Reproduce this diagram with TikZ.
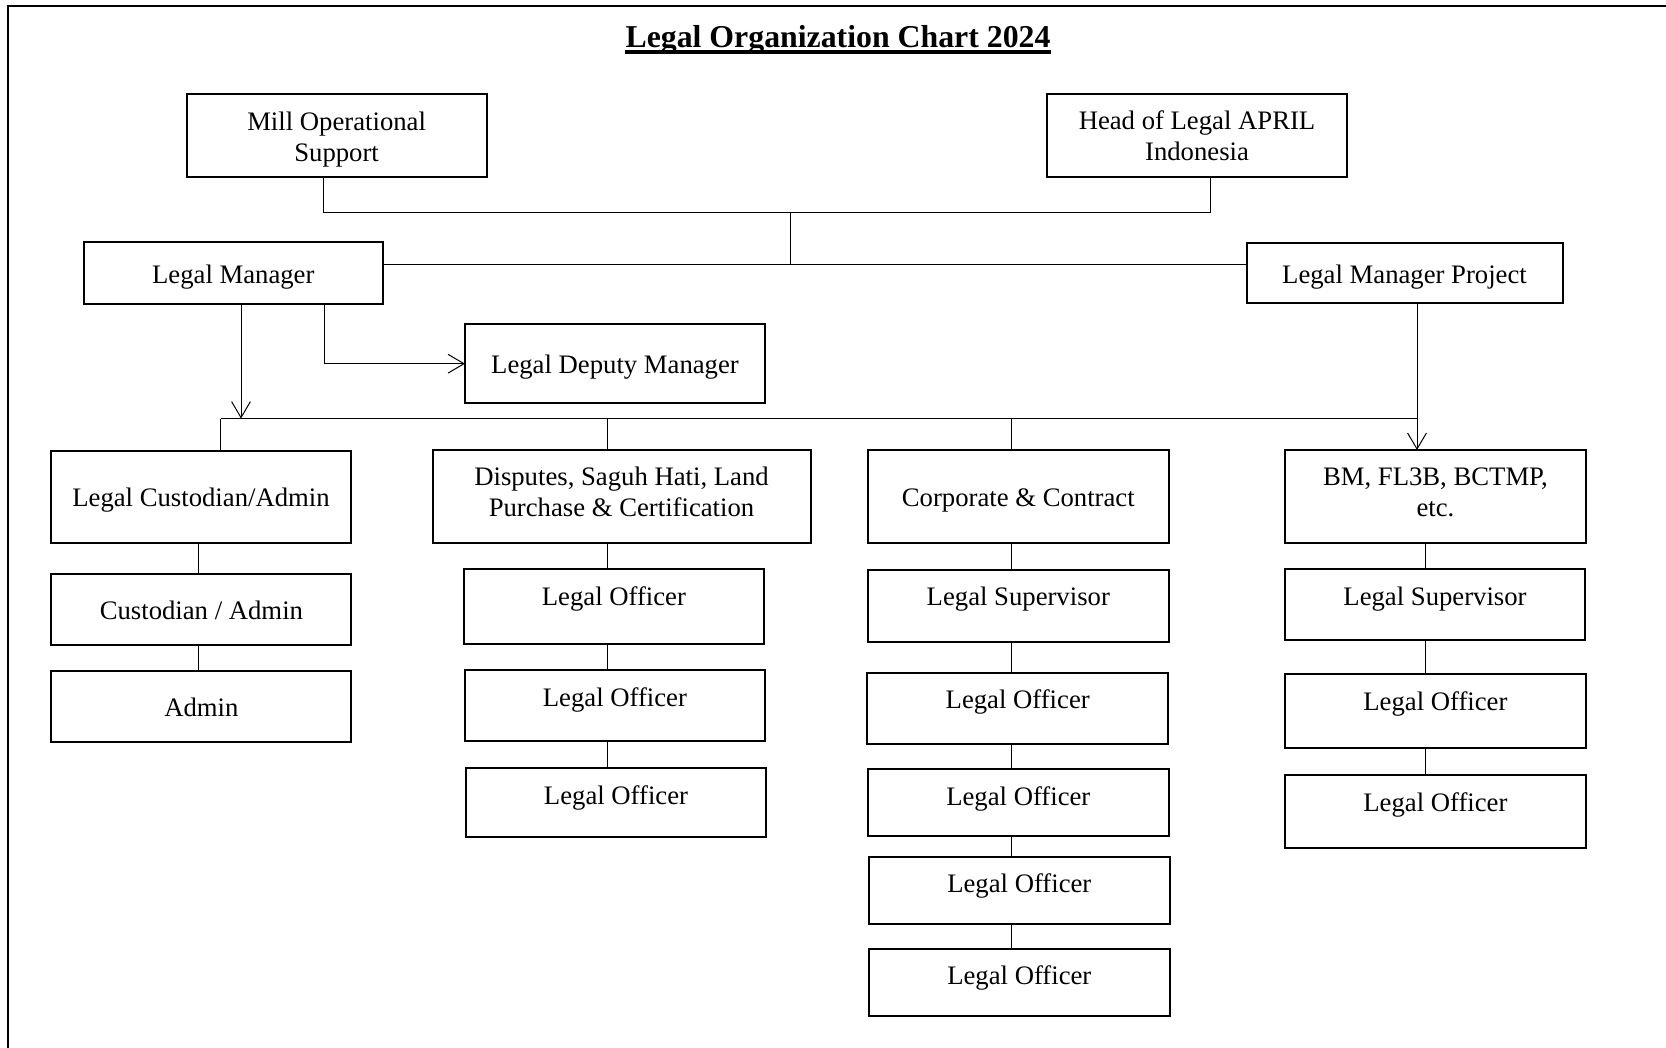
\documentclass[tikz,border=0pt]{standalone}
\usepackage{fontspec}
\setmainfont{Liberation Serif}
\usetikzlibrary{arrows.meta}
% shift a label inside its box without changing the box size
\newcommand\liftup[2]{\raisebox{#1}[\height][\depth]{#2}}
\newcommand\twolines[2]{\begin{tabular}{@{}c@{}}#1\\#2\end{tabular}}

\begin{document}
\begin{tikzpicture}[x=0.5pt,y=-0.5pt,
  font=\fontsize{13.35}{15.5}\selectfont,
  box/.style={draw, line width=1pt, inner sep=0pt, outer sep=0pt, align=center},
  conn/.style={line width=0.5pt},
  arr/.style={conn, -{Straight Barb[length=8pt,width=9.4pt,line width=0.5pt]}}
]
\useasboundingbox (0,0) rectangle (1666,1048);

% page frame
\draw[line width=0.7pt] (8,1060) -- (8,6) -- (1680,6);

% title
\node[anchor=base, inner sep=0pt, font=\bfseries\fontsize{15.9}{19}\selectfont] (title) at (838,47.5) {Legal Organization Chart 2024};
\draw[line width=1.6pt] ([yshift=-2.3pt]title.base west) -- ([yshift=-2.3pt]title.base east);

% top level
\node[box, minimum width=150pt, minimum height=41.65pt] (mill) at (336.6,135.7) {\liftup{-1.9pt}{\twolines{Mill Operational}{Support}}};
\node[box, minimum width=150pt, minimum height=41.5pt] (head) at (1197,135.5) {\liftup{-1.9pt}{\twolines{Head of Legal APRIL}{Indonesia}}};

% managers
\node[box, minimum width=149.75pt, minimum height=31pt] (lm) at (233.3,273.3) {\liftup{-1.9pt}{Legal Manager}};
\node[box, minimum width=158pt, minimum height=30.3pt] (lmp) at (1404.5,273) {\liftup{-1.9pt}{Legal Manager Project}};
\node[box, minimum width=150pt, minimum height=39.65pt] (dep) at (615,363.7) {\liftup{-1.9pt}{Legal Deputy Manager}};

% custodian column
\node[box, minimum width=150pt, minimum height=46.3pt] (lca) at (201,497.1) {\liftup{-1.6pt}{Legal Custodian/Admin}};
\node[box, minimum width=150pt, minimum height=35.3pt] (ca) at (201.4,609.3) {\liftup{-0.6pt}{Custodian / Admin}};
\node[box, minimum width=150pt, minimum height=35.35pt] (adm) at (201.4,706.3) {\liftup{-0.6pt}{Admin}};

% disputes column
\node[box, minimum width=189pt, minimum height=46.3pt] (disp) at (621.5,496.3) {\liftup{0.8pt}{\twolines{Disputes, Saguh Hati, Land}{Purchase \& Certification}}};
\node[box, minimum width=150.15pt, minimum height=37.2pt] (lo1) at (613.9,606.6) {\liftup{3.7pt}{Legal Officer}};
\node[box, minimum width=150.1pt, minimum height=35.4pt] (lo2) at (614.9,705.6) {\liftup{2.7pt}{Legal Officer}};
\node[box, minimum width=150pt, minimum height=34.7pt] (lo3) at (616,802.5) {\liftup{2.3pt}{Legal Officer}};

% corporate column
\node[box, minimum width=150.35pt, minimum height=46.5pt] (corp) at (1018.3,496.9) {\liftup{-1.9pt}{Corporate \& Contract}};
\node[box, minimum width=150.3pt, minimum height=35.95pt] (ls1) at (1018.3,605.8) {\liftup{3.25pt}{Legal Supervisor}};
\node[box, minimum width=150.35pt, minimum height=35.75pt] (loa) at (1017.7,708.5) {\liftup{3.15pt}{Legal Officer}};
\node[box, minimum width=150.3pt, minimum height=33.5pt] (lob) at (1018.3,802.5) {\liftup{1.8pt}{Legal Officer}};
\node[box, minimum width=150.3pt, minimum height=33.7pt] (loc) at (1019.3,890.3) {\liftup{2.1pt}{Legal Officer}};
\node[box, minimum width=150.3pt, minimum height=33.45pt] (lod) at (1019.3,982.3) {\liftup{2.1pt}{Legal Officer}};

% project column
\node[box, minimum width=150.1pt, minimum height=46.3pt] (bm) at (1435.4,496.3) {\liftup{0.65pt}{\twolines{BM, FL3B, BCTMP,}{etc.}}};
\node[box, minimum width=150pt, minimum height=35.15pt] (ls2) at (1435,604.6) {\liftup{2.65pt}{Legal Supervisor}};
\node[box, minimum width=150.1pt, minimum height=37.35pt] (loe) at (1435.4,711) {\liftup{3.4pt}{Legal Officer}};
\node[box, minimum width=150.1pt, minimum height=36.15pt] (lof) at (1435.4,811.4) {\liftup{3.1pt}{Legal Officer}};

% junctions and column lines
\coordinate (jt) at (790.6,212.7);
\coordinate (jm) at (790.6,265);
\coordinate (busL) at (220.8,418.6);
\coordinate (busR) at (1417,418.6);
\coordinate (cA) at (198,0);
\coordinate (cD) at (607.2,0);
\coordinate (cC) at (1011.3,0);
\coordinate (cB) at (1425.5,0);
\coordinate (cL) at (241,0);
\coordinate (cE) at (324.6,0);
\coordinate (cP) at (1417,0);

% top connectors
\draw[conn] ([xshift=-6.45pt]mill.south) |- (jt);
\draw[conn] ([xshift=6.5pt]head.south) |- (jt);
\draw[conn] (jt) -- (jm);
\draw[conn] (lm.east |- jm) -- (lmp.west |- jm);

% manager connectors
\draw[arr] (lm.south -| cL) -- (busL -| cL);
\draw[arr] (lm.south -| cE) |- (dep.west);
\draw[arr] (lmp.south -| cP) -- (bm.north -| cP);
\draw[conn] (busL) -- (busR);

% custodian column
\draw[conn] (busL) -- (busL |- lca.north);
\draw[conn] (lca.south -| cA) -- (ca.north -| cA);
\draw[conn] (ca.south -| cA) -- (adm.north -| cA);

% disputes column
\draw[conn] (busL -| cD) -- (disp.north -| cD);
\draw[conn] (disp.south -| cD) -- (lo1.north -| cD);
\draw[conn] (lo1.south -| cD) -- (lo2.north -| cD);
\draw[conn] (lo2.south -| cD) -- (lo3.north -| cD);

% corporate column
\draw[conn] (busL -| cC) -- (corp.north -| cC);
\draw[conn] (corp.south -| cC) -- (ls1.north -| cC);
\draw[conn] (ls1.south -| cC) -- (loa.north -| cC);
\draw[conn] (loa.south -| cC) -- (lob.north -| cC);
\draw[conn] (lob.south -| cC) -- (loc.north -| cC);
\draw[conn] (loc.south -| cC) -- (lod.north -| cC);

% project column
\draw[conn] (bm.south -| cB) -- (ls2.north -| cB);
\draw[conn] (ls2.south -| cB) -- (loe.north -| cB);
\draw[conn] (loe.south -| cB) -- (lof.north -| cB);
\end{tikzpicture}
\end{document}
